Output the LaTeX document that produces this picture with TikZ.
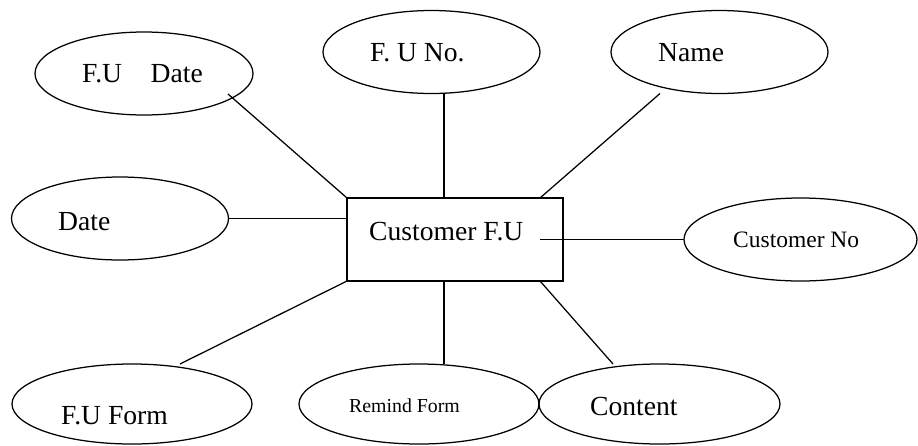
\documentclass[tikz,border=0pt]{standalone}
\usepackage{fontspec}
\setmainfont{Liberation Serif}
\usetikzlibrary{shapes.geometric}
\begin{document}
\begin{tikzpicture}[x=1pt, y=-1pt,
  attr/.style={draw, ellipse, line width=1.25pt, inner sep=0pt, outer sep=0pt,
               minimum width=#1, minimum height=83pt},
  attr/.default=217pt,
  entity/.style={draw, rectangle, line width=1.25pt, inner sep=0pt, outer sep=0pt,
                 minimum width=216pt, minimum height=83pt},
  lbl/.style={inner sep=0pt, anchor=base west, font=\fontsize{27.6}{32}\selectfont},
  lblmid/.style={lbl, font=\fontsize{23.5}{28}\selectfont},
  lblsmall/.style={lbl, font=\fontsize{19.8}{24}\selectfont},
  link/.style={line width=1.25pt}]
\useasboundingbox (0,0) rectangle (918,445);

% central entity
\node[entity] (cfu) at (455,239.5) {};
\node[lbl] (cfu-t) at (369,240.5) {Customer F.U};

% attributes
\node[attr=218pt] (fud) at (144,73.5) {};
\node[lbl] (fud-t) at (82,82) {F.U\hspace{28.5pt}Date};

\node[attr] (funo) at (431.5,52) {};
\node[lbl] (funo-t) at (370,61) {F. U No.};

\node[attr] (name) at (719.5,52) {};
\node[lbl] (name-t) at (658,61.5) {Name};

\node[attr] (date) at (120,218.5) {};
\node[lbl] (date-t) at (58,230.5) {Date};

\node[attr=233pt] (cno) at (800.5,239.5) {};
\node[lblmid] (cno-t) at (733,247) {Customer No};

\node[attr=240pt, minimum height=80pt] (fuf) at (132,404) {};
\node[lbl] (fuf-t) at (61,424) {F.U Form};

\node[attr=240pt, minimum height=80pt] (rem) at (419,404) {};
\node[lblsmall] (rem-t) at (349,412) {Remind Form};

\node[attr=241pt, minimum height=80pt] (con) at (659.5,404) {};
\node[lbl] (con-t) at (590,415) {Content};

% connectors
\draw[link] ([xshift=84pt, yshift=-20.5pt]fud.center) -- (cfu.north west);
\draw[link] ([xshift=12.5pt]funo.south) -- ([xshift=-11pt]cfu.north);
\draw[link] ([xshift=-59.5pt]name.south) -- ([xshift=-23pt]cfu.north east);
\draw[link] (date.east) -- (date.east -| cfu.west);
\draw[link] ([xshift=-23pt]cfu.east) -- (cno.west);
\draw[link] ([xshift=48pt]fuf.north) -- (cfu.south west);
\draw[link] ([xshift=-11pt]cfu.south) -- ([xshift=-11pt]cfu.south |- rem.north);
\draw[link] ([xshift=-23pt]cfu.south east) -- ([xshift=-46.5pt]con.north);
\end{tikzpicture}
\end{document}
